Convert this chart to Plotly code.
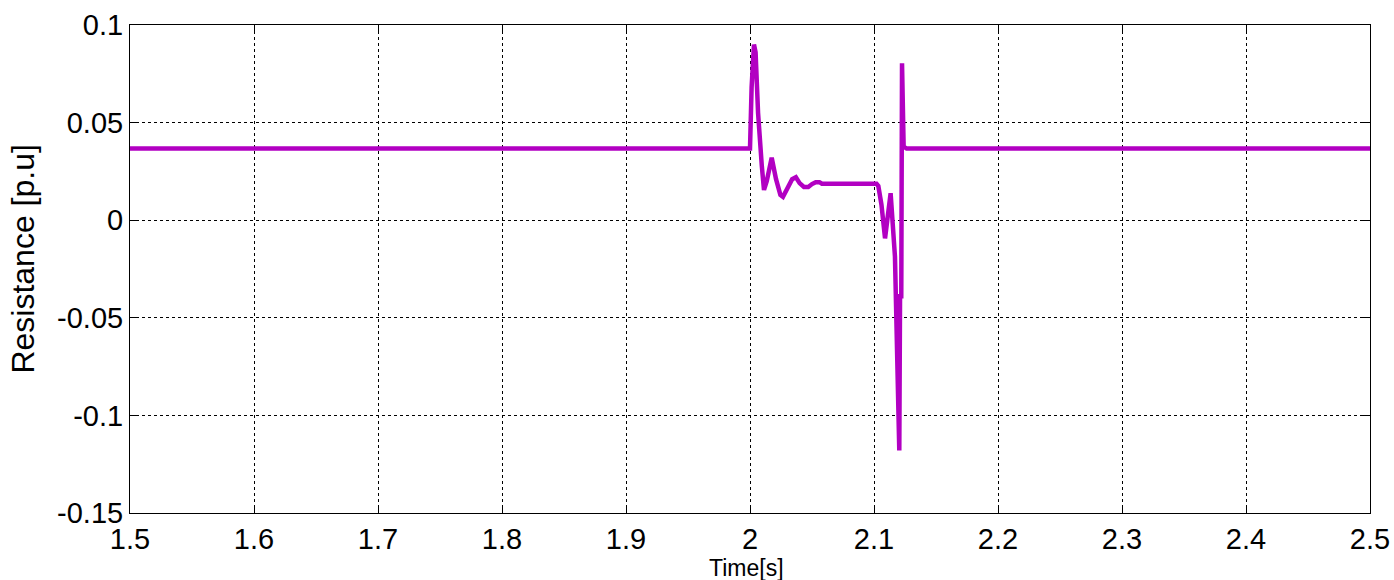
import plotly.graph_objects as go

# Resistance trace (p.u) versus time (s)
time_s = [1.5, 2.0, 2.0013, 2.0032, 2.0045, 2.0065, 2.0095, 2.0113,
          2.0135, 2.0175, 2.021, 2.0245, 2.0266, 2.030, 2.034, 2.037, 2.040,
          2.0435, 2.047, 2.050, 2.053, 2.056, 2.058, 2.102, 2.1035, 2.106,
          2.1089, 2.1134, 2.1156, 2.1169, 2.1204, 2.1210, 2.1220, 2.1226,
          2.1239, 2.1263, 2.5]
resistance_pu = [0.0367, 0.0367, 0.068, 0.090, 0.086, 0.055, 0.028, 0.0155,
                 0.020, 0.032, 0.021, 0.013, 0.012, 0.016, 0.021, 0.022, 0.019,
                 0.017, 0.017, 0.0185, 0.0195, 0.0195, 0.0187, 0.0187, 0.0175, 0.008,
                 -0.0093, 0.0138, -0.0048, -0.0187, -0.118, -0.039, -0.039, 0.0804,
                 0.0377, 0.0367, 0.0367]

x_ticks = [1.5, 1.6, 1.7, 1.8, 1.9, 2.0, 2.1, 2.2, 2.3, 2.4, 2.5]
x_tick_labels = ["1.5", "1.6", "1.7", "1.8", "1.9", "2", "2.1", "2.2", "2.3", "2.4", "2.5"]
y_ticks = [0.1, 0.05, 0, -0.05, -0.1, -0.15]
y_tick_labels = ["0.1", "0.05", "0", "-0.05", "-0.1", "-0.15"]

FONT = "Liberation Sans, Arial, sans-serif"
LINE_COLOR = "rgb(178,0,194)"

fig = go.Figure()
fig.add_trace(go.Scatter(
    x=time_s, y=resistance_pu, mode="lines",
    line=dict(color=LINE_COLOR, width=4.5),
    showlegend=False,
))

axis_common = dict(
    showline=True, linecolor="black", linewidth=1, mirror="ticks",
    ticks="inside", ticklen=8, tickcolor="black", tickwidth=1,
    showgrid=True, gridcolor="black", gridwidth=1, griddash="3px,3px",
    zeroline=False, automargin=False,
    tickfont=dict(family=FONT, size=29, color="black"),
)

fig.update_xaxes(range=[1.5, 2.5], tickvals=x_ticks, ticktext=x_tick_labels, **axis_common)
fig.update_yaxes(range=[-0.15, 0.1], tickvals=y_ticks, ticktext=y_tick_labels, **axis_common)

fig.add_annotation(
    text="Resistance [p.u]", textangle=-90, showarrow=False,
    xref="paper", yref="paper", x=-0.086, y=0.52, xanchor="center", yanchor="middle",
    font=dict(family=FONT, size=32, color="black"),
)
fig.add_annotation(
    text="Time[s]", showarrow=False,
    xref="paper", yref="paper", x=0.497, y=-0.113, xanchor="center", yanchor="middle",
    font=dict(family=FONT, size=23, color="black"),
)

fig.update_layout(
    width=1394, height=580,
    margin=dict(l=130, r=24, t=25, b=67),
    paper_bgcolor="white", plot_bgcolor="white",
)

fig.write_html("out.html")
